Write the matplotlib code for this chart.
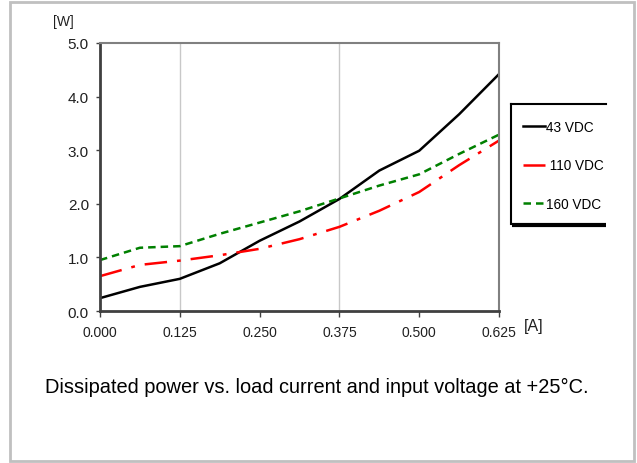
import matplotlib.pyplot as plt
from matplotlib.lines import Line2D
from matplotlib.patches import Rectangle

plt.rcParams['font.family'] = ['Liberation Sans', 'DejaVu Sans']

# corriente de carga [A]
corriente = [0.0, 0.0625, 0.125, 0.1875, 0.25, 0.3125, 0.375, 0.4375, 0.5, 0.5625, 0.625]
# potencia disipada [W]
p_43 = [0.24, 0.45, 0.60, 0.89, 1.31, 1.67, 2.09, 2.62, 2.99, 3.67, 4.42]
p_110 = [0.65, 0.86, 0.94, 1.04, 1.16, 1.34, 1.57, 1.87, 2.22, 2.72, 3.18]
p_160 = [0.95, 1.18, 1.21, 1.44, 1.65, 1.86, 2.10, 2.34, 2.55, 2.93, 3.29]

x_ticks = [0.0, 0.125, 0.25, 0.375, 0.5, 0.625]
y_ticks = [0.0, 1.0, 2.0, 3.0, 4.0, 5.0]
grid_x = [0.125, 0.375]

fig = plt.figure(figsize=(6.37, 4.64), dpi=100)
ax = fig.add_axes([100/637, 152/464, 399/637, 268/464])

for g in grid_x:
    ax.axvline(g, color='#c8c8c8', lw=1.0, zorder=0)

l1, = ax.plot(corriente, p_43, color='black', lw=1.8, label='43 VDC')
l2, = ax.plot(corriente, p_110, color='#ff0000', lw=1.8,
              dashes=(9, 4, 1.5, 4), label=' 110 VDC')
l3, = ax.plot(corriente, p_160, color='#008000', lw=1.8,
              dashes=(3, 2), label='160 VDC')

ax.set_xlim(0, 0.625)
ax.set_ylim(0, 5)
ax.set_xticks(x_ticks)
ax.set_xticklabels([f"{v:.3f}" for v in x_ticks])
ax.set_yticks(y_ticks)
ax.set_yticklabels([f"{v:.1f}" for v in y_ticks])
ax.tick_params(axis='x', direction='out', length=4, width=1, color='#404040',
               labelsize=10, labelcolor='#202020', pad=6)
ax.tick_params(axis='y', direction='out', length=3, width=1, color='#404040',
               labelsize=11, labelcolor='#202020', pad=5)

for lado in ['left', 'bottom']:
    ax.spines[lado].set_color('#404040')
    ax.spines[lado].set_linewidth(2)
for lado in ['top', 'right']:
    ax.spines[lado].set_color('#808080')
    ax.spines[lado].set_linewidth(1.5)

fig.text(63/637, 1 - 22/464, '[W]', fontsize=10, color='#202020', ha='center', va='center')
fig.text(534/637, 1 - 327/464, '[A]', fontsize=11.5, color='#202020', ha='center', va='center')

# leyenda
leg = ax.legend(handles=[l1, l2, l3], loc='upper left',
                bbox_to_anchor=(516/637, 1 - 114/464), bbox_transform=fig.transFigure,
                frameon=False, fontsize=9.8, handlelength=1.6, handletextpad=0.1,
                labelspacing=1.8, borderpad=0)
# marco de la leyenda (sin borde derecho, con sombra abajo)
fig.add_artist(Line2D([511/637, 511/637], [1 - 105/464, 1 - 225/464], color='black', lw=1.5))
fig.add_artist(Line2D([511/637, 606/637], [1 - 105/464, 1 - 105/464], color='black', lw=1.5))
fig.add_artist(Line2D([512/637, 606/637], [1 - 226/464, 1 - 226/464], color='black', lw=3,
                      solid_capstyle='butt'))

fig.text(45/637, 1 - 387/464,
         'Dissipated power vs. load current and input voltage at +25°C.',
         fontsize=14.4, color='black', ha='left', va='center')

# borde exterior
fig.add_artist(Rectangle((10/637, 2/464), 624/637, 459/464, transform=fig.transFigure,
                         fill=False, edgecolor='#c0c0c0', lw=2))

plt.savefig('out.png', dpi=100)
